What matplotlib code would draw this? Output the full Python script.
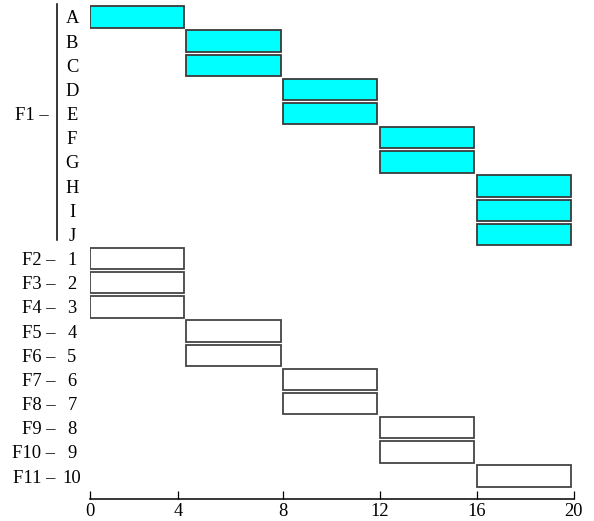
import matplotlib
matplotlib.use("Agg")
import matplotlib.pyplot as plt
import matplotlib.transforms as mtransforms

plt.rcParams['font.family'] = ['Liberation Serif', 'DejaVu Serif']

# ---- data ----
rows = ['A', 'B', 'C', 'D', 'E', 'F', 'G', 'H', 'I', 'J',
        '1', '2', '3', '4', '5', '6', '7', '8', '9', '10']
starts = [0, 4, 4, 8, 8, 12, 12, 16, 16, 16,
          0, 0, 0, 4, 4, 8, 8, 12, 12, 16]
durations = [3.9] * 20
groups = ['F1', 'F2', 'F3', 'F4', 'F5', 'F6', 'F7', 'F8', 'F9', 'F10', 'F11']
group_members = [rows[0:10]] + [[r] for r in rows[10:]]
highlight_group = 'F1'
xtick_pos = [0, 3.67, 8, 12, 16, 20]
xtick_labels = ['0', '4', '8', '12', '16', '20']

FS = 13.3
fig = plt.figure(figsize=(5.94, 5.21), dpi=100)
ax = fig.add_axes([89.5 / 594, 22 / 521, 484 / 594, 499 / 521])

ypos = {r: i for i, r in enumerate(rows)}
row_group = {}
for g, mem in zip(groups, group_members):
    for r in mem:
        row_group[r] = g

for r, s, d in zip(rows, starts, durations):
    if row_group[r] == highlight_group:
        fc, ec = '#00FFFF', '#3a3a3a'
    else:
        fc, ec = 'white', '#444444'
    ax.barh(ypos[r], d, left=s, height=0.88, color=fc, edgecolor=ec, linewidth=1.3)

ax.set_xlim(0, 20)
ax.set_ylim(len(rows) - 1 + 0.95, -0.7)

for sp in ['top', 'right', 'left']:
    ax.spines[sp].set_visible(False)
ax.spines['bottom'].set_bounds(0, 20)
ax.spines['bottom'].set_linewidth(1.1)

ax.set_xticks(xtick_pos)
ax.set_xticklabels(xtick_labels, fontsize=FS)
ax.tick_params(axis='x', direction='in', length=6, width=0.9, pad=3)

ax.set_yticks(range(len(rows)))
ax.set_yticklabels(rows, fontsize=FS, ha='center')
ax.tick_params(axis='y', length=0, pad=12.6)

# group labels
trans = mtransforms.blended_transform_factory(ax.transAxes, ax.transData)
line_x = (57 - 89.5) / 484
for g, mem in zip(groups, group_members):
    ys = [ypos[m] for m in mem]
    ymid = ys[(len(ys) - 1) // 2]
    if len(mem) > 1:
        ax.plot([line_x, line_x], [min(ys) - 0.55, max(ys) + 0.25], transform=trans,
                color='black', lw=1.1, clip_on=False)
        ax.text((49 - 89.5) / 484, ymid, g + ' \u2013', transform=trans, ha='right',
                va='center_baseline', fontsize=FS)
    else:
        ax.text((55.5 - 89.5) / 484, ymid, g + ' \u2013', transform=trans, ha='right',
                va='center_baseline', fontsize=FS)

fig.savefig('out.png', dpi=100)
